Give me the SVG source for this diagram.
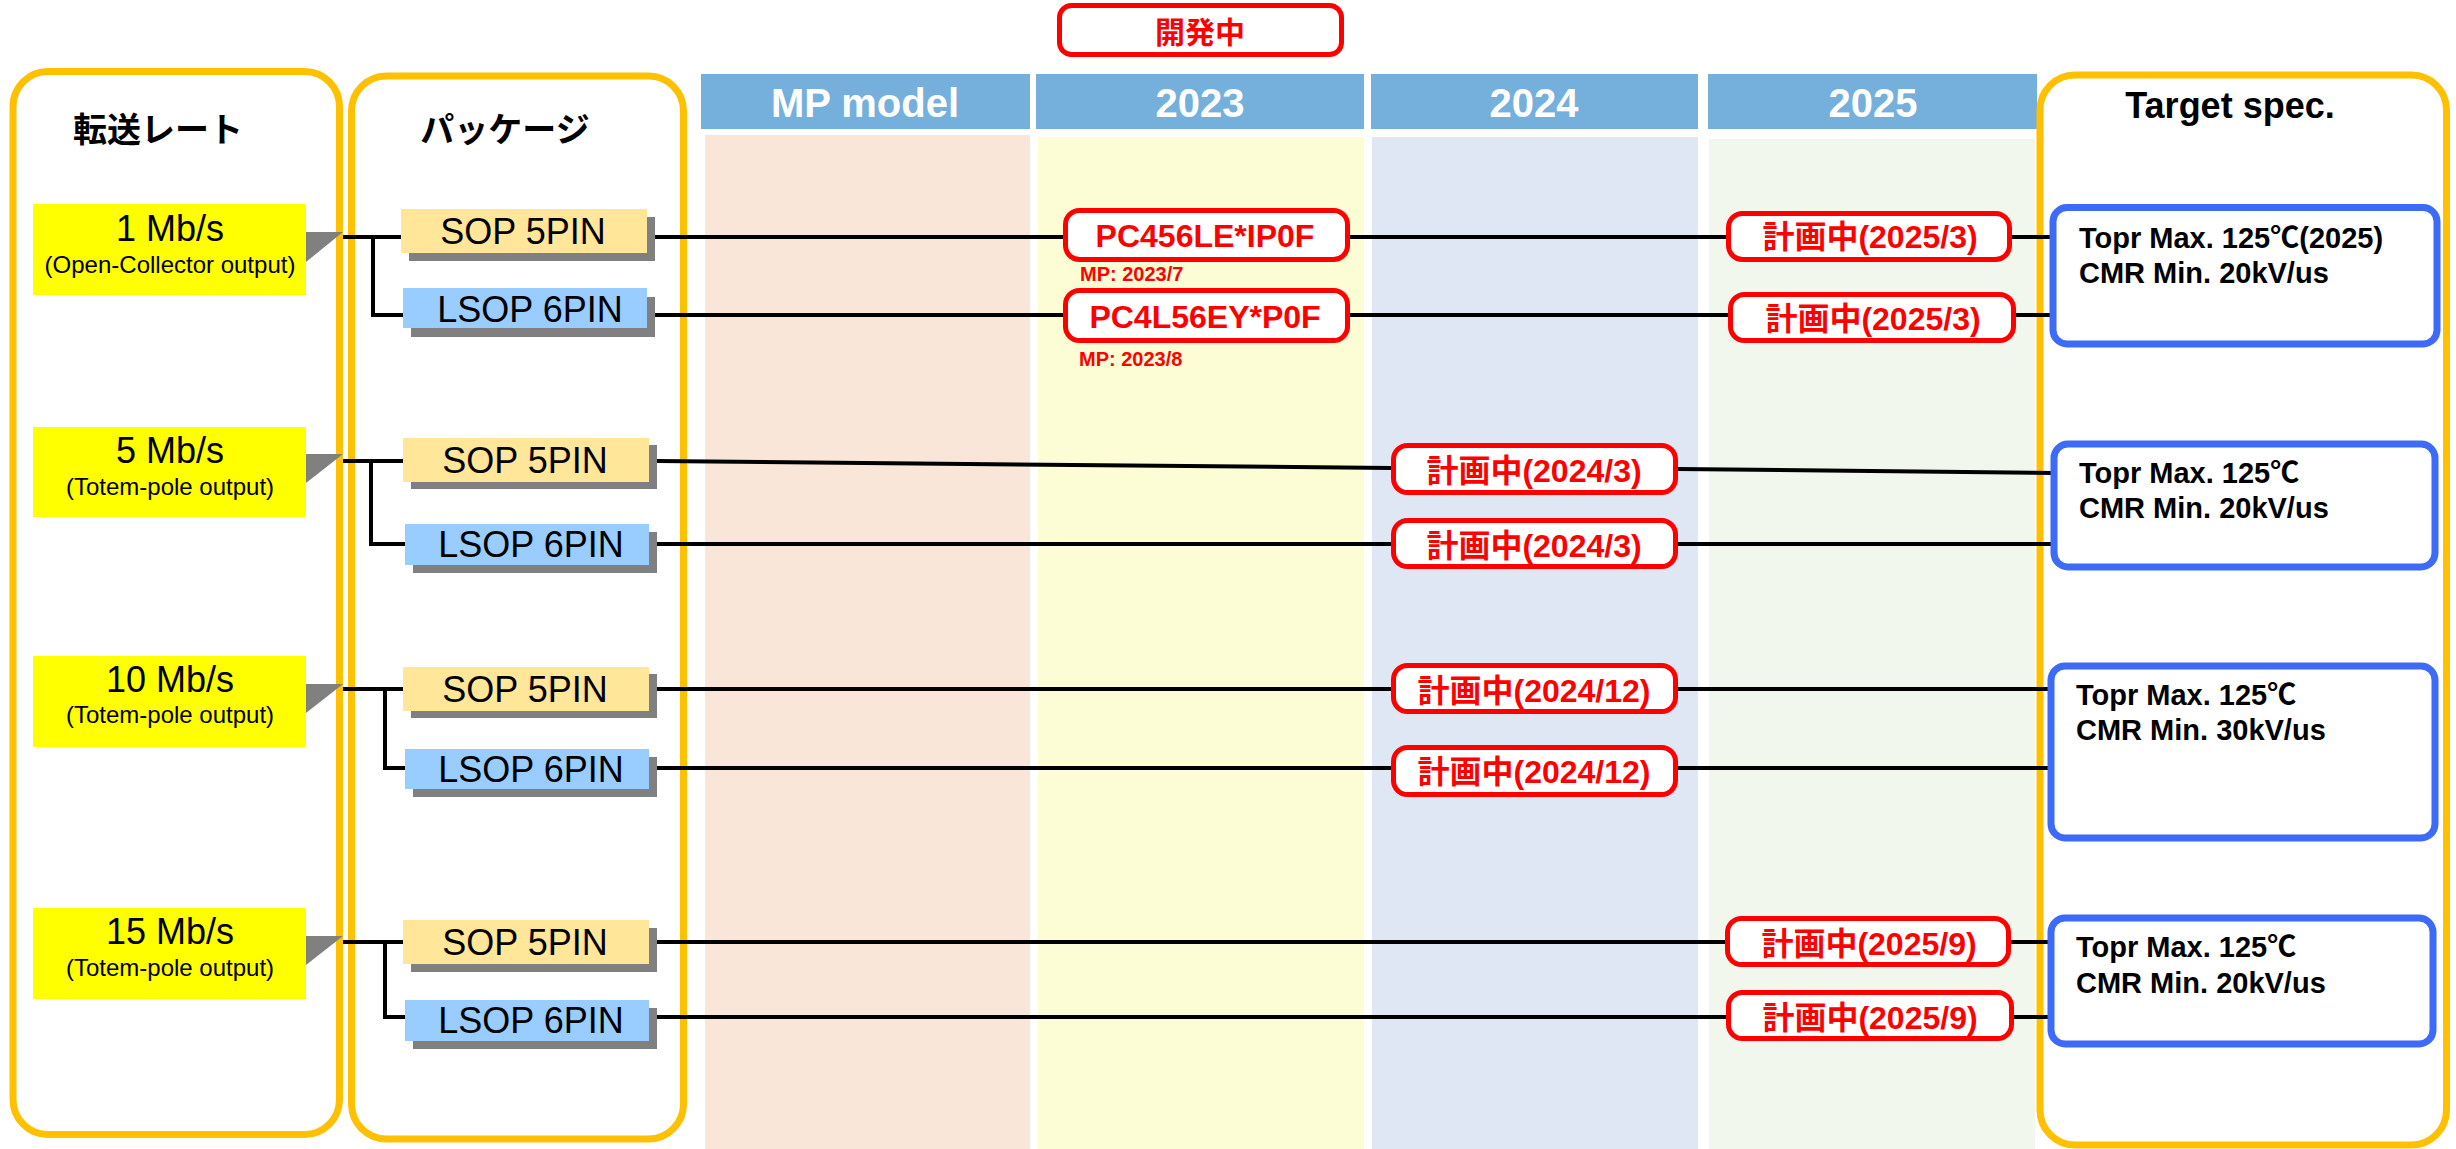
<svg xmlns="http://www.w3.org/2000/svg" width="2456" height="1149" viewBox="0 0 2456 1149">
<style>
text{font-family:"Liberation Sans","Noto Sans CJK JP",sans-serif}
.hdr{fill:#74B0DB}
.hdrt{fill:#fff;font-weight:bold;font-size:40px;text-anchor:middle}
.cont{fill:#fff;stroke:#FFC000;stroke-width:7}
.ttl{font-weight:bold;font-size:34px;text-anchor:middle;fill:#000}
.ttl36{font-weight:bold;font-size:36px;text-anchor:middle;fill:#000}
.rate{fill:#FFFF00}
.rt1{font-size:36px;text-anchor:middle;fill:#000}
.rt2{font-size:24px;text-anchor:middle;fill:#000}
.tri{fill:#808080}
.shd{fill:#808080}
.sop{fill:#FFE699}
.lsop{fill:#99CCFF}
.pkt{font-size:36px;text-anchor:middle;fill:#000}
.red{fill:#fff;stroke:#FF0000;stroke-width:5}
.redt{fill:#FF0000;font-weight:bold;font-size:32px;text-anchor:middle}
.devt{fill:#FF0000;font-weight:bold;font-size:30px;text-anchor:middle}
.mp{fill:#FF0000;font-weight:bold;font-size:20px}
.blue{fill:#fff;stroke:#3D6BF7;stroke-width:7}
.spec{fill:#000;font-weight:bold;font-size:29px}
.ln{stroke:#000;stroke-width:4;fill:none}
</style>

<g id="columns">
<rect x="705" y="135" width="325" height="1014" fill="#FAE6D9"/>
<rect x="1038" y="137" width="326" height="1012" fill="#FDFDD5"/>
<rect x="1372" y="137" width="326" height="1012" fill="#DFE6F4"/>
<rect x="1709" y="139" width="326" height="1010" fill="#F1F7EC"/>
</g>

<g id="headers">
<rect class="hdr" x="701" y="74" width="329" height="55"/>
<text class="hdrt" x="865" y="117">MP model</text>
<rect class="hdr" x="1036" y="74" width="328" height="55"/>
<text class="hdrt" x="1200" y="117">2023</text>
<rect class="hdr" x="1371" y="74" width="327" height="55"/>
<text class="hdrt" x="1534" y="117">2024</text>
<rect class="hdr" x="1708" y="74" width="329" height="55"/>
<text class="hdrt" x="1873" y="117">2025</text>
</g>

<g id="dev">
<rect class="red" x="1059.5" y="5.5" width="282" height="49" rx="12"/>
<text class="devt" x="1200" y="43">開発中</text>
</g>

<g id="rate-panel">
<rect class="cont" x="13" y="71.5" width="326.5" height="1063" rx="35"/>
<text class="ttl" x="158" y="142">転送レート</text>
</g>
<g id="package-panel">
<rect class="cont" x="351.5" y="76" width="332" height="1063" rx="35"/>
<text class="ttl" x="505" y="142">パッケージ</text>
</g>
<g id="target-panel">
<rect class="cont" x="2040" y="75" width="406.5" height="1070" rx="35"/>
<text class="ttl36" x="2230" y="118">Target spec.</text>
</g>

<g id="connectors">
<path class="ln" d="M343 237H401M373 237V315H403"/>
<path class="ln" d="M343 461H403M371 461V544H405"/>
<path class="ln" d="M343 689H403M385 689V768H405"/>
<path class="ln" d="M343 942H403M385 942V1017H405"/>
<path class="ln" d="M655 237H1063M1350 237H1726M2012 237H2053"/>
<path class="ln" d="M655 315H1063M1350 315H1728M2016 315H2053"/>
<path class="ln" d="M657 461L1391 468M1678 469L2054 473"/>
<path class="ln" d="M657 544H1391M1678 544H2054"/>
<path class="ln" d="M657 689H1391M1678 689H2051"/>
<path class="ln" d="M657 768H1391M1678 768H2051"/>
<path class="ln" d="M657 942H1725M2011 942H2051"/>
<path class="ln" d="M657 1017H1726M2014 1017H2051"/>
</g>

<g id="rate-1">
<polygon class="tri" points="306,232 343,232 306,262"/>
<rect class="rate" x="33" y="204" width="273" height="91"/>
<text class="rt1" x="170" y="241">1 Mb/s</text>
<text class="rt2" x="170" y="273">(Open-Collector output)</text>
</g>
<g id="rate-5">
<polygon class="tri" points="306,454 343,454 306,483"/>
<rect class="rate" x="33" y="427" width="273" height="90"/>
<text class="rt1" x="170" y="463">5 Mb/s</text>
<text class="rt2" x="170" y="495">(Totem-pole output)</text>
</g>
<g id="rate-10">
<polygon class="tri" points="306,684 343,684 306,713"/>
<rect class="rate" x="33" y="656" width="273" height="91"/>
<text class="rt1" x="170" y="692">10 Mb/s</text>
<text class="rt2" x="170" y="723">(Totem-pole output)</text>
</g>
<g id="rate-15">
<polygon class="tri" points="306,936 343,936 306,965"/>
<rect class="rate" x="33" y="908" width="273" height="91"/>
<text class="rt1" x="170" y="944">15 Mb/s</text>
<text class="rt2" x="170" y="976">(Totem-pole output)</text>
</g>

<g id="pkg-1-sop">
<rect class="shd" x="409" y="217" width="246" height="44"/>
<rect class="sop" x="401" y="209" width="246" height="44"/>
<text class="pkt" x="523" y="244">SOP 5PIN</text>
</g>
<g id="pkg-1-lsop">
<rect class="shd" x="411" y="297" width="244" height="40"/>
<rect class="lsop" x="403" y="288" width="244" height="40"/>
<text class="pkt" x="530" y="322">LSOP 6PIN</text>
</g>
<g id="pkg-5-sop">
<rect class="shd" x="411" y="445" width="246" height="44"/>
<rect class="sop" x="403" y="438" width="246" height="44"/>
<text class="pkt" x="525" y="473">SOP 5PIN</text>
</g>
<g id="pkg-5-lsop">
<rect class="shd" x="413" y="532" width="244" height="41"/>
<rect class="lsop" x="405" y="524" width="244" height="41"/>
<text class="pkt" x="531" y="557">LSOP 6PIN</text>
</g>
<g id="pkg-10-sop">
<rect class="shd" x="411" y="674" width="246" height="44"/>
<rect class="sop" x="403" y="667" width="246" height="44"/>
<text class="pkt" x="525" y="702">SOP 5PIN</text>
</g>
<g id="pkg-10-lsop">
<rect class="shd" x="413" y="757" width="244" height="40"/>
<rect class="lsop" x="405" y="749" width="244" height="40"/>
<text class="pkt" x="531" y="782">LSOP 6PIN</text>
</g>
<g id="pkg-15-sop">
<rect class="shd" x="411" y="928" width="246" height="44"/>
<rect class="sop" x="403" y="920" width="246" height="44"/>
<text class="pkt" x="525" y="955">SOP 5PIN</text>
</g>
<g id="pkg-15-lsop">
<rect class="shd" x="413" y="1008" width="244" height="41"/>
<rect class="lsop" x="405" y="1000" width="244" height="41"/>
<text class="pkt" x="531" y="1033">LSOP 6PIN</text>
</g>

<g id="pc456">
<rect class="red" x="1065.5" y="210.5" width="282" height="49" rx="14"/>
<text class="redt" x="1205" y="247">PC456LE*IP0F</text>
<text class="mp" x="1080" y="281">MP: 2023/7</text>
</g>
<g id="pc4l56">
<rect class="red" x="1065.5" y="290.5" width="282" height="50" rx="14"/>
<text class="redt" x="1205" y="328">PC4L56EY*P0F</text>
<text class="mp" x="1079" y="366">MP: 2023/8</text>
</g>

<g id="plan-2025-3a">
<rect class="red" x="1728.5" y="213.5" width="281" height="46" rx="14"/>
<text class="redt" x="1870" y="248">計画中(2025/3)</text>
</g>
<g id="plan-2025-3b">
<rect class="red" x="1730.5" y="294.5" width="283" height="46" rx="14"/>
<text class="redt" x="1873" y="330">計画中(2025/3)</text>
</g>
<g id="plan-2024-3a">
<rect class="red" x="1393.5" y="445.5" width="282" height="47" rx="14"/>
<text class="redt" x="1534" y="482">計画中(2024/3)</text>
</g>
<g id="plan-2024-3b">
<rect class="red" x="1393.5" y="520.5" width="282" height="46" rx="14"/>
<text class="redt" x="1534" y="557">計画中(2024/3)</text>
</g>
<g id="plan-2024-12a">
<rect class="red" x="1393.5" y="665.5" width="282" height="46" rx="14"/>
<text class="redt" x="1534" y="702">計画中(2024/12)</text>
</g>
<g id="plan-2024-12b">
<rect class="red" x="1393.5" y="747.5" width="282" height="47" rx="14"/>
<text class="redt" x="1534" y="783">計画中(2024/12)</text>
</g>
<g id="plan-2025-9a">
<rect class="red" x="1727.5" y="918.5" width="281" height="46" rx="14"/>
<text class="redt" x="1869" y="955">計画中(2025/9)</text>
</g>
<g id="plan-2025-9b">
<rect class="red" x="1728.5" y="992.5" width="283" height="46" rx="14"/>
<text class="redt" x="1870" y="1029">計画中(2025/9)</text>
</g>

<g id="spec-1">
<rect class="blue" x="2053" y="207.5" width="384" height="136.5" rx="14"/>
<text class="spec" x="2079" y="248">Topr Max. 125℃(2025)</text>
<text class="spec" x="2079" y="283">CMR Min. 20kV/us</text>
</g>
<g id="spec-5">
<rect class="blue" x="2054" y="444" width="381" height="123" rx="14"/>
<text class="spec" x="2079" y="483">Topr Max. 125℃</text>
<text class="spec" x="2079" y="518">CMR Min. 20kV/us</text>
</g>
<g id="spec-10">
<rect class="blue" x="2051" y="666" width="384" height="172" rx="14"/>
<text class="spec" x="2076" y="705">Topr Max. 125℃</text>
<text class="spec" x="2076" y="740">CMR Min. 30kV/us</text>
</g>
<g id="spec-15">
<rect class="blue" x="2051" y="918" width="382" height="126" rx="14"/>
<text class="spec" x="2076" y="957">Topr Max. 125℃</text>
<text class="spec" x="2076" y="993">CMR Min. 20kV/us</text>
</g>
</svg>
